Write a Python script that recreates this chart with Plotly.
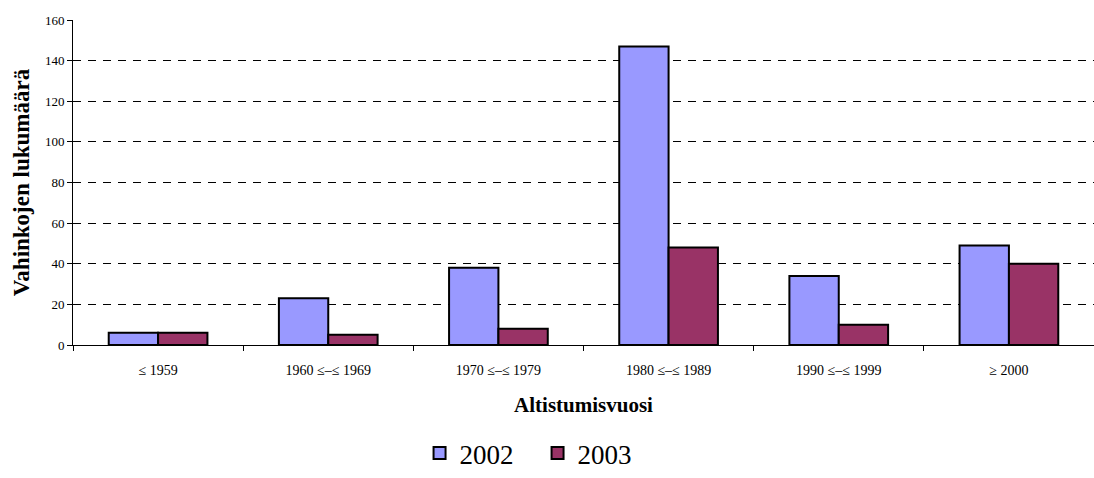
import plotly.graph_objects as go

categories = ["\u2264 1959", "1960 \u2264\u2013\u2264 1969", "1970 \u2264\u2013\u2264 1979",
              "1980 \u2264\u2013\u2264 1989", "1990 \u2264\u2013\u2264 1999", "\u2265 2000"]
values_2002 = [6, 23, 38, 147, 34, 49]
values_2003 = [6, 5, 8, 48, 10, 40]
y_ticks = [0, 20, 40, 60, 80, 100, 120, 140, 160]

font_family = "Liberation Serif"

fig = go.Figure()
fig.add_trace(go.Bar(x=categories, y=values_2002, name="2002",
                     marker=dict(color="#9999FF", line=dict(color="black", width=2))))
fig.add_trace(go.Bar(x=categories, y=values_2003, name="2003",
                     marker=dict(color="#993366", line=dict(color="black", width=2))))

fig.update_layout(
    width=1094, height=478,
    margin=dict(l=73, r=0, t=20, b=133, autoexpand=False),
    paper_bgcolor="white", plot_bgcolor="white",
    barmode="group", bargap=0.42, bargroupgap=0,
    font=dict(family=font_family, color="black"),
    legend=dict(orientation="h", x=0.455, xanchor="center",
                yref="container", y=0.0, yanchor="bottom",
                font=dict(size=27, family=font_family), itemwidth=30,
                entrywidth=73, traceorder="normal"),
    xaxis=dict(showline=True, linecolor="black", linewidth=1, automargin=False,
               ticks="outside", tickson="boundaries", ticklen=5, tickcolor="black",
               ticklabelstandoff=12,
               tickfont=dict(size=14, family=font_family),
               title=dict(text="<b>Altistumisvuosi</b>", font=dict(size=21, family=font_family), standoff=20)),
    yaxis=dict(range=[0, 160], tickvals=y_ticks, showline=True, linecolor="black", linewidth=1,
               automargin=False,
               ticks="outside", ticklen=5, tickcolor="black", tickfont=dict(size=13, family=font_family),
               showgrid=True, gridcolor="black", griddash="8px,7px", gridwidth=1,
               zeroline=False,
               title=dict(text="<b>Vahinkojen lukumäärä</b>", font=dict(size=23, family=font_family), standoff=8)),
)

fig.write_html("out.html")
